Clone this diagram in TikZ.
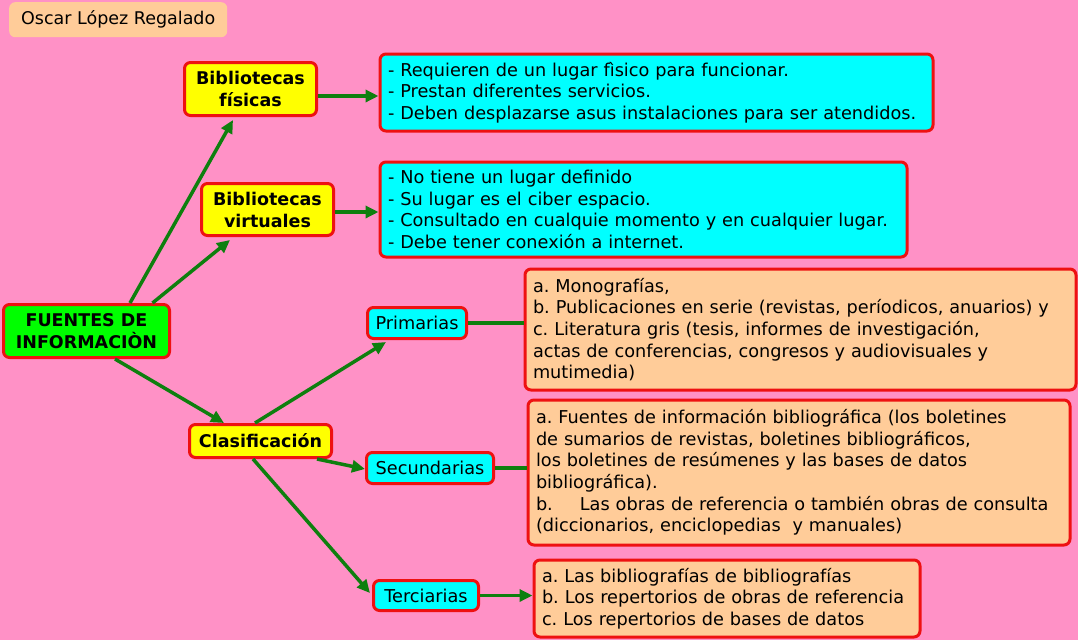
\documentclass[tikz,border=0pt]{standalone}
\usepackage{fontspec}
\setmainfont{DejaVu Sans}
\usepackage{tikz}
\usetikzlibrary{arrows.meta,calc}
\definecolor{MapPink}{HTML}{FF91C6}
\definecolor{MapGreen}{HTML}{0E7F0E}
\definecolor{MapRed}{HTML}{EE1111}
\definecolor{MapYellow}{HTML}{FFFF00}
\definecolor{MapCyan}{HTML}{00FFFF}
\definecolor{MapPeach}{HTML}{FFCC99}
\definecolor{MapLime}{HTML}{00FF00}
\tikzset{
  catnode/.style={draw=MapRed, fill=MapYellow, line width=3pt, rounded corners=6pt, align=center,
                  font=\bfseries\fontsize{17.5pt}{22pt}\selectfont, inner sep=0pt},
  subnode/.style={draw=MapRed, fill=MapCyan, line width=3pt, rounded corners=6pt, align=center,
                  font=\fontsize{17.7pt}{21.5pt}\selectfont, inner sep=0pt},
  infobox/.style={draw=MapRed, fill=MapCyan, line width=3pt, rounded corners=6pt, align=left,
                  font=\fontsize{17.7pt}{21.6pt}\selectfont, inner xsep=8pt, inner ysep=0pt, anchor=north west},
  notebox/.style={infobox, fill=MapPeach},
  maparr/.style={-{Triangle[length=13pt,width=12pt]}, line width=3.5pt, MapGreen},
  mapline/.style={line width=3.5pt, MapGreen}
}
\begin{document}
\frenchspacing
\begin{tikzpicture}[x=1pt, y=-1pt]
\fill[MapPink] (0,0) rectangle (1078,640);
\useasboundingbox (0,0) rectangle (1078,640);
% author tag
\node[fill=MapPeach, rounded corners=6pt, minimum width=218pt, minimum height=35pt, inner sep=0pt,
      font=\fontsize{17.5pt}{20pt}\selectfont, anchor=north west] (author) at (9,2) {Oscar López Regalado};
% root and first level
\node[catnode, fill=MapLime, minimum width=166pt, minimum height=53pt] (fuentes) at (86.5,331) {FUENTES DE\\INFORMACIÒN};
\node[catnode, minimum width=132pt, minimum height=53pt] (fisicas) at (250.5,89) {Bibliotecas\\físicas};
\node[catnode, minimum width=132pt, minimum height=52pt] (virtuales) at (267.5,209.5) {Bibliotecas\\virtuales};
\node[catnode, minimum width=142pt, minimum height=33pt] (clasif) at (260.5,441) {Clasificación};
% second level
\node[subnode, minimum width=99pt, minimum height=31pt] (prim) at (417,323) {Primarias};
\node[subnode, minimum width=127pt, minimum height=31pt] (sec) at (430,468) {Secundarias};
\node[subnode, minimum width=105pt, minimum height=30pt] (terc) at (426,595.5) {Terciarias};
% detail boxes
\node[infobox, text width=537pt, minimum height=77pt] (boxfis) at (378.5,52.5)
  {- Requieren de un lugar fìsico para funcionar.\\
   - Prestan diferentes servicios.\\
   - Deben desplazarse asus instalaciones para ser atendidos.};
\node[infobox, text width=511pt, minimum height=95pt] (boxvirt) at (378.5,160.5)
  {- No tiene un lugar definido\\
   - Su lugar es el ciber espacio.\\
   - Consultado en cualquie momento y en cualquier lugar.\\
   - Debe tener conexión a internet.};
\node[notebox, text width=535pt, minimum height=121pt] (boxprim) at (523.5,267.5)
  {a. Monografías,\\
   b. Publicaciones en serie (revistas, períodicos, anuarios) y\\
   c. Literatura gris (tesis, informes de investigación,\\
   actas de conferencias, congresos y audiovisuales y\\
   mutimedia)};
\node[notebox, text width=526pt, minimum height=145pt] (boxsec) at (526.5,398.5)
  {a. Fuentes de información bibliográfica (los boletines\\
   de sumarios de revistas, boletines bibliográficos,\\
   los boletines de resúmenes y las bases de datos\\
   bibliográfica).\\
   b.\hspace{27pt}Las obras de referencia o también obras de consulta\\
   (diccionarios, enciclopedias\ \ y manuales)};
\node[notebox, text width=370pt, minimum height=77pt] (boxter) at (532.5,558.5)
  {a. Las bibliografías de bibliografías\\
   b. Los repertorios de obras de referencia\\
   c. Los repertorios de bases de datos};
% connectors
\draw[maparr] ([xshift=43.5pt]fuentes.north) -- ([xshift=-17.5pt,yshift=-3pt]fisicas.south);
\draw[maparr] ([xshift=66pt]fuentes.north) -- ([xshift=-37.5pt,yshift=-3pt]virtuales.south);
\draw[maparr] ([xshift=28.5pt]fuentes.south) -- ([xshift=-36.5pt]clasif.north);
\draw[maparr] ([yshift=-7pt]fisicas.east) -- ([yshift=-7pt]fisicas.east -| boxfis.west);
\draw[maparr] ([yshift=-2.5pt]virtuales.east) -- ([yshift=-2.5pt]virtuales.east -| boxvirt.west);
\draw[maparr] ([xshift=-5.5pt]clasif.north) -- ([xshift=-31pt,yshift=-2pt]prim.south);
\draw[maparr] ([xshift=56.5pt]clasif.south) -- ([yshift=-1pt]sec.west);
\draw[maparr] ([xshift=-7.5pt]clasif.south) -- ([xshift=-2pt,yshift=2.5pt]terc.west);
\draw[mapline] (prim.east) -- (prim.east -| boxprim.west);
\draw[mapline] (sec.east) -- (sec.east -| boxsec.west);
\draw[maparr] (terc.east) -- (terc.east -| boxter.west);
\end{tikzpicture}
\end{document}
